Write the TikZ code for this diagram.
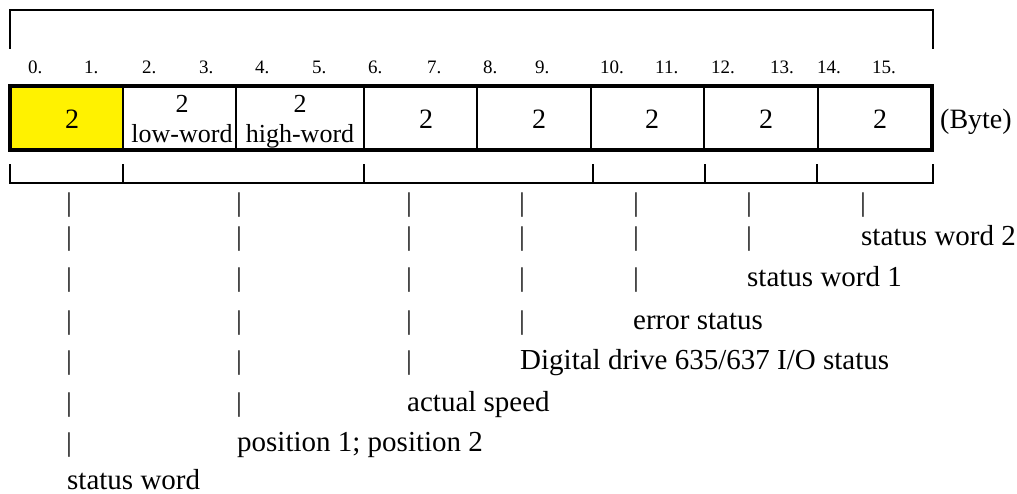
\documentclass[tikz,border=0pt]{standalone}
\usepackage{fontspec}
\setmainfont{Liberation Serif}
\begin{document}
\begin{tikzpicture}[x=1pt,y=-1pt,
  idx/.style={anchor=base west, inner sep=0pt, font=\fontsize{19}{22}\selectfont},
  cellnum/.style={anchor=base, inner sep=0pt, font=\fontsize{26}{30}\selectfont},
  bignum/.style={anchor=base, inner sep=0pt, font=\fontsize{28}{32}\selectfont},
  lbl/.style={anchor=base west, inner sep=0pt, font=\fontsize{29}{34}\selectfont},
  bar/.style={anchor=base, inner sep=0pt, font=\fontsize{27}{32}\selectfont},
  thinline/.style={line width=2pt, line cap=rect},
  divline/.style={line width=2.6pt},
  frameline/.style={line width=4pt}]
\useasboundingbox (0,0) rectangle (1017,494);
% top bracket
\draw[thinline] (10,48) -- (10,10) -- (933,10) -- (933,48);
% byte indices
\foreach \x [count=\i from 0] in {28,84,142,199,255,312,368,427,483,535,600,655,711,770,817,872}
  \node[idx] (i\i) at (\x,74) {\i.};
% yellow cell
\fill[yellow] (10,86) rectangle (123,150);
% cell dividers
\foreach \x in {123,236,364,477,591,704,818}
  \draw[divline] (\x,86) -- (\x,150);
% frame
\draw[frameline] (10,86) rectangle (932,150);
% cell texts
\node[bignum] (c0) at (72,129) {2};
\node[cellnum] (c1) at (182,113) {2};
\node[cellnum] (c1w) at (182,143) {low-word};
\node[cellnum] (c2) at (300,113) {2};
\node[cellnum] (c2w) at (300,143) {high-word};
\node[bignum] (c3) at (426,129) {2};
\node[bignum] (c4) at (539,129) {2};
\node[bignum] (c5) at (652,129) {2};
\node[bignum] (c6) at (766,129) {2};
\node[bignum] (c7) at (880,129) {2};
\node[lbl, font=\fontsize{28}{32}\selectfont] (byte) at (940,129) {(Byte)};
% bottom bracket
\draw[thinline] (10,165) -- (10,183) -- (933,183) -- (933,165);
\foreach \x in {123,364,593,705,817}
  \draw[thinline] (\x,165) -- (\x,183);
% pipes
\foreach \x/\n [count=\c] in {69/7,239/6,409/5,522/4,636/3,749/2,863/1}
  \foreach \r in {1,...,\n} {
    \pgfmathsetmacro\yy{{212,246,287,329,369,411,451,490}[\r-1]}
    \node[bar] (p\c-\r) at (\x,\yy) {|};
  }
% labels
\node[lbl] (l1) at (67,489) {status word};
\node[lbl] (l2) at (237,451) {position 1; position 2};
\node[lbl] (l3) at (407,411) {actual speed};
\node[lbl] (l4) at (520,369) {Digital drive 635/637 I/O status};
\node[lbl] (l5) at (633,329) {error status};
\node[lbl] (l6) at (747,287) {status word 1};
\node[lbl] (l7) at (861,246) {status word 2};
\end{tikzpicture}
\end{document}
